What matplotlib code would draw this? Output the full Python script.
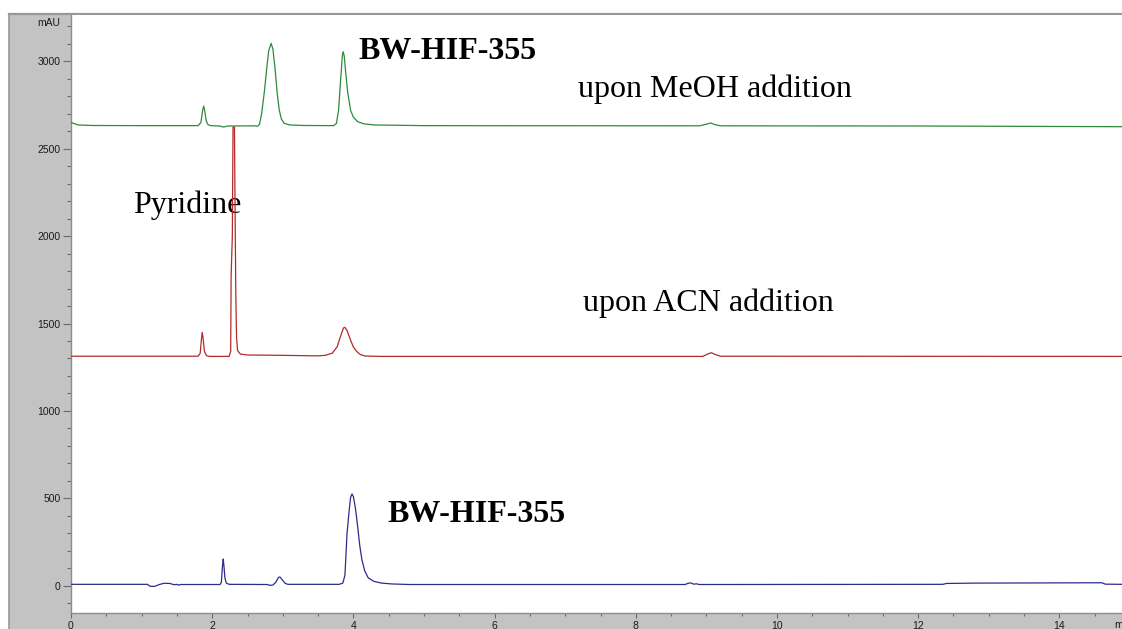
import matplotlib
matplotlib.use("Agg")
import matplotlib.pyplot as plt
from matplotlib.ticker import MultipleLocator
from matplotlib.patches import Rectangle
from matplotlib.lines import Line2D

# ---- chromatogram traces (retention time in min, absorbance in mAU) ----
meoh_time = [0.0, 0.1, 0.3, 1.0, 1.80, 1.84, 1.865, 1.88, 1.895, 1.915, 1.94, 1.98,
             2.10, 2.16, 2.22, 2.60, 2.64, 2.67, 2.70, 2.74, 2.77, 2.80, 2.835, 2.86,
             2.89, 2.92, 2.95, 2.98, 3.02, 3.10, 3.30, 3.72, 3.76, 3.79, 3.82, 3.845,
             3.855, 3.87, 3.89, 3.92, 3.96, 4.00, 4.06, 4.15, 4.30, 5.0, 8.9, 9.0,
             9.06, 9.12, 9.2, 12.0, 14.89]
meoh_mau = [2650, 2636, 2633, 2632, 2632, 2650, 2720, 2744, 2715, 2660, 2638, 2632,
            2630, 2624, 2630, 2631, 2628, 2640, 2700, 2830, 2950, 3060, 3103, 3070,
            2960, 2820, 2720, 2670, 2645, 2636, 2633, 2632, 2645, 2720, 2900, 3040,
            3055, 3030, 2940, 2820, 2720, 2680, 2655, 2642, 2636, 2632, 2631, 2640,
            2647, 2638, 2631, 2630, 2626]

acn_time = [0.0, 1.80, 1.83, 1.85, 1.858, 1.87, 1.89, 1.92, 1.96, 2.24, 2.262, 2.268,
            2.285, 2.295, 2.315, 2.325, 2.335, 2.345, 2.36, 2.40, 2.50, 3.0, 3.5, 3.6,
            3.70, 3.77, 3.82, 3.86, 3.88, 3.91, 3.96, 4.00, 4.05, 4.10, 4.17, 4.4,
            8.95, 9.02, 9.07, 9.13, 9.2, 14.89]
acn_mau = [1313, 1313, 1330, 1420, 1450, 1420, 1340, 1316, 1312, 1312, 1340, 1770,
           2000, 2624, 2624, 2100, 1650, 1420, 1345, 1325, 1320, 1318, 1315, 1318,
           1330, 1367, 1430, 1475, 1478, 1460, 1405, 1365, 1339, 1322, 1314, 1312,
           1312, 1326, 1333, 1322, 1313, 1312]

ref_time = [0.0, 1.08, 1.12, 1.18, 1.26, 1.32, 1.40, 1.46, 1.50, 1.52, 1.55, 2.11,
            2.13, 2.145, 2.156, 2.165, 2.18, 2.20, 2.24, 2.78, 2.82, 2.86, 2.90, 2.94,
            2.96, 2.99, 3.03, 3.07, 3.80, 3.85, 3.88, 3.91, 3.94, 3.96, 3.98, 4.00,
            4.03, 4.06, 4.09, 4.12, 4.16, 4.21, 4.29, 4.40, 4.55, 4.8, 8.70, 8.74,
            8.78, 8.82, 8.86, 8.9, 12.35, 12.40, 12.8, 14.6, 14.65, 14.89]
ref_mau = [8, 8, -3, -4, 8, 14, 13, 6, 8, 3, 7, 7,
           20, 110, 153, 120, 45, 15, 8, 7, 2, 4, 20, 48,
           50, 35, 15, 8, 8, 15, 60, 300, 430, 505, 525, 510,
           440, 340, 230, 150, 85, 45, 25, 15, 10, 7, 7, 14,
           16, 9, 11, 7, 8, 13, 15, 17, 9, 8]

x_ticks = [0, 2, 4, 6, 8, 10, 12, 14]
y_ticks = [0, 500, 1000, 1500, 2000, 2500, 3000]

W, H = 1122, 629
fig = plt.figure(figsize=(W / 100, H / 100), dpi=100)
fig.patch.set_facecolor("white")


def fx(px):
    return px / W


def fy(py):
    return 1 - py / H


# grey instrument frame behind the plot area
fig.patches.append(Rectangle((fx(9), 0), 1 - fx(9), fy(14), transform=fig.transFigure,
                             facecolor="#c3c3c3", edgecolor="none", zorder=-2))
fig.lines.append(Line2D([fx(9), 1], [fy(14), fy(14)], transform=fig.transFigure,
                        color="#989898", lw=1.6, zorder=-1))
fig.lines.append(Line2D([fx(9), fx(9)], [0, fy(14)], transform=fig.transFigure,
                        color="#989898", lw=1.2, zorder=-1))

ax = fig.add_axes([fx(71), fy(613), 1 - fx(71), fy(15) - fy(613)])
ax.set_zorder(2)
ax.set_facecolor("white")
ax.set_xlim(0, (W - 71) / 70.6)
ax.set_ylim(-156, 3265)

ax.plot(meoh_time, meoh_mau, color="#2f8a3a", lw=0.9, zorder=3)
ax.plot(acn_time, acn_mau, color="#b22a2a", lw=0.9, zorder=3)
ax.plot(ref_time, ref_mau, color="#2c2c8c", lw=0.9, zorder=3)

ax.set_xticks(x_ticks)
ax.set_yticks(y_ticks)
ax.xaxis.set_minor_locator(MultipleLocator(0.5))
ax.yaxis.set_minor_locator(MultipleLocator(100))
tick_font = dict(family="Liberation Sans", size=7.5)
ax.set_xticklabels([str(v) for v in x_ticks], **tick_font, color="#1a1a1a")
ax.set_yticklabels([str(v) for v in y_ticks], **tick_font, color="#1a1a1a")
ax.tick_params(axis="y", which="major", length=6, width=0.8, color="#6a6a6a", pad=1.5)
ax.tick_params(axis="y", which="minor", length=3, width=0.8, color="#6a6a6a")
ax.tick_params(axis="x", which="major", length=3.5, width=0.8, color="#6a6a6a", pad=2.5)
ax.tick_params(axis="x", which="minor", length=2.5, width=0.8, color="#6a6a6a")
for side in ("top", "right"):
    ax.spines[side].set_visible(False)
for side in ("left", "bottom"):
    ax.spines[side].set_color("#8c8c8c")
    ax.spines[side].set_linewidth(1.0)

fig.text(fx(60), fy(23), "mAU", ha="right", va="center", **tick_font, color="#1a1a1a")
fig.text(fx(1114), fy(625), "min", ha="left", va="center", **tick_font, color="#1a1a1a")

# peak annotations sit underneath the traces
serif = "Liberation Serif"
label_kw = dict(family=serif, fontsize=23, ha="left", va="baseline", zorder=2)
ax.text(4.065, 3013, "BW-HIF-355", fontweight="bold", **label_kw)
ax.text(7.18, 2796, "upon MeOH addition", **label_kw)
ax.text(0.878, 2134, "Pyridine", **label_kw)
ax.text(7.25, 1571, "upon ACN addition", **label_kw)
ax.text(4.476, 365, "BW-HIF-355", fontweight="bold", **label_kw)

fig.savefig("out.png", dpi=100)
